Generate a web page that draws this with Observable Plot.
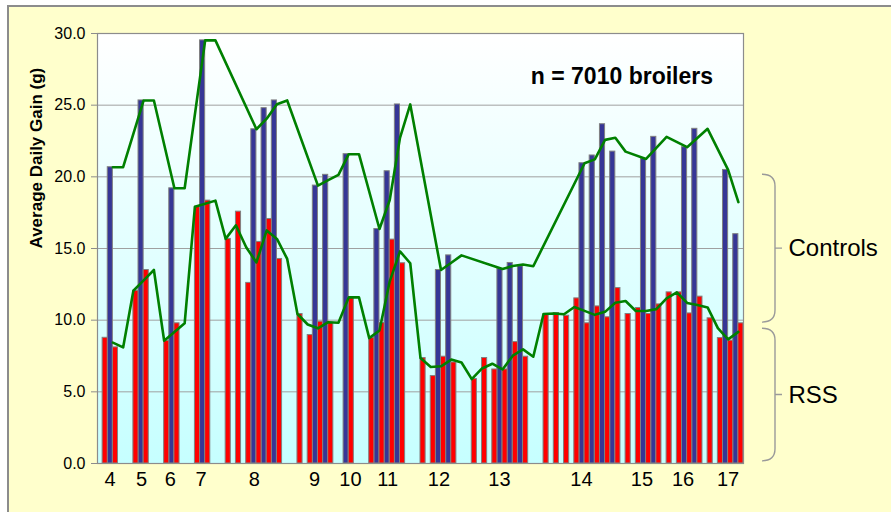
<!DOCTYPE html>
<html>
<head>
<meta charset="utf-8">
<script src="https://cdn.jsdelivr.net/npm/d3@7"></script>
<script src="https://cdn.jsdelivr.net/npm/@observablehq/plot@0.6"></script>
<style>
html, body { margin: 0; padding: 0; background: #ffffff; }
#wrap { position: relative; width: 891px; height: 512px; overflow: hidden; font-family: "Liberation Sans", Arial, sans-serif; }
#panel { position: absolute; left: 7px; top: 5px; width: 900px; height: 520px; background: #FFFFCC; border: 2px solid #8c8c8c; box-sizing: border-box; }
#chart { position: absolute; left: 0; top: 0; }
</style>
</head>
<body>
<div id="wrap"><div id="panel"></div><div id="chart"></div></div>
<script>
// 63 flock slots along the category axis
const slots = Array.from({length: 63}, (_, i) => i);

// Controls (blue bars), Average Daily Gain (g)
const controls = [
  null, 20.67, null, null, 25.33, null, null, 19.2, null, null,
  29.52, null, null, null, null, 23.32, 24.79, 25.33, null, null,
  null, 19.39, 20.14, null, 21.58, null, null, 16.36, 20.39, 25.05,
  null, null, null, 13.5, 14.52, null, null, null, null, 13.57,
  13.99, 13.76, null, null, null, null, null, 20.95, 21.49, 23.67,
  21.76, null, null, 21.25, 22.79, null, null, 22.07, 23.35, null,
  null, 20.48, 16.0
];

// RSS (red bars), Average Daily Gain (g)
const rss = [
  8.77, 8.1, null, 12.05, 13.5, null, 8.56, 9.78, null, 17.92,
  18.34, null, 15.67, 17.57, 12.6, 15.46, 17.06, 14.27, null, 10.43,
  8.96, 9.89, 9.82, null, 11.59, null, 8.75, 9.8, 15.62, 13.97,
  null, 7.36, 6.1, 7.45, 7.05, null, 5.89, 7.36, 6.56, 6.56,
  8.47, 7.45, null, 10.43, 10.5, 10.31, 11.52, 9.78, 10.96, 10.2,
  12.24, 10.43, 10.85, 10.43, 11.1, 11.94, 11.94, 10.47, 11.64, 10.13,
  8.75, 8.57, 9.78
];

// Green trend line through the controls
const controlsTrend = [
  null, 20.67, 20.67, null, 25.33, 25.33, null, 19.2, 19.2, null,
  29.52, 29.52, null, null, null, 23.32, 24.06, 25.06, 25.33, null,
  null, 19.39, 19.77, 20.14, 21.58, 21.58, null, 16.36, 18.38, 22.72,
  25.05, null, null, 13.5, 14.01, 14.52, null, null, null, 13.57,
  13.78, 13.88, 13.76, null, null, null, null, 20.95, 21.22, 22.58,
  22.72, 21.76, null, 21.25, 22.02, 22.79, null, 22.07, 22.71, 23.35,
  null, 20.48, 18.24
];

// Green trend line through the RSS
const rssTrend = [
  null, 8.43, 8.1, 12.05, 12.78, 13.5, 8.56, 9.17, 9.78, 17.92,
  18.13, 18.34, 15.67, 16.62, 15.09, 14.03, 16.26, 15.67, 14.27, 10.43,
  9.7, 9.43, 9.86, 9.82, 11.59, 11.59, 8.75, 9.28, 12.71, 14.8,
  13.97, 7.36, 6.73, 6.78, 7.25, 7.05, 5.89, 6.63, 6.96, 6.56,
  7.52, 7.96, 7.45, 10.43, 10.47, 10.41, 10.92, 10.65, 10.37, 10.58,
  11.22, 11.34, 10.64, 10.64, 10.77, 11.52, 11.94, 11.2, 11.06, 10.89,
  9.44, 8.66, 9.18
];

// Farm labels under the axis and where they sit along the slots
const farmLabels = ["4", "5", "6", "7", "8", "9", "10", "11", "12", "13", "14", "15", "16", "17"];
const farmLabelPos = [1.23, 4.3, 7.1, 10.1, 15.3, 21.18, 24.67, 28.3, 33.3, 39.2, 47.2, 53.1, 57.1, 61.5];

const yTicks = [0, 5, 10, 15, 20, 25, 30];
const gridTicks = [5, 10, 15, 20, 25];

// Braces to the right of the plot
const braceGroups = [
  {label: "Controls", top: 20.15, bottom: 9.83},
  {label: "RSS", top: 9.4, bottom: 0.15}
];

const annotation = "n = 7010 broilers";
const yTitle = "Average Daily Gain (g)";

const rows = slots.map(i => ({
  i,
  controls: controls[i],
  rss: rss[i],
  controlsTrend: controlsTrend[i],
  rssTrend: rssTrend[i]
}));
const labelMap = new Map(farmLabelPos.map((p, k) => [p, farmLabels[k]]));

function plotBackground(index, scales, values, dims) {
  const g = d3.create("svg:g");
  const lg = g.append("defs").append("linearGradient")
    .attr("id", "plotBg").attr("x1", 0).attr("y1", 0).attr("x2", 0).attr("y2", 1);
  lg.append("stop").attr("offset", "0%").attr("stop-color", "#ffffff");
  lg.append("stop").attr("offset", "100%").attr("stop-color", "#c6ffff");
  g.append("rect")
    .attr("x", dims.marginLeft)
    .attr("y", dims.marginTop)
    .attr("width", dims.width - dims.marginLeft - dims.marginRight)
    .attr("height", dims.height - dims.marginTop - dims.marginBottom)
    .attr("fill", "url(#plotBg)");
  return g.node();
}

function braces(index, scales, values, dims) {
  const g = d3.create("svg:g")
    .attr("fill", "none").attr("stroke", "#9a9a9a").attr("stroke-width", 1.4);
  const xr = dims.width - dims.marginRight;
  for (const b of braceGroups) {
    const yt = scales.y(b.top), yb = scales.y(b.bottom), ym = (yt + yb) / 2;
    const x0 = xr + 19, x1 = xr + 32, x2 = xr + 39, r = 12;
    g.append("path").attr("d",
      `M${x0},${yt}Q${x1},${yt} ${x1},${yt + r}V${yb - r}Q${x1},${yb} ${x0},${yb}M${x1},${ym}H${x2}`);
  }
  return g.node();
}

const font = "Liberation Sans, Arial, sans-serif";

const chart = Plot.plot({
  width: 891,
  height: 512,
  marginLeft: 97,
  marginRight: 148,
  marginTop: 33,
  marginBottom: 49,
  style: {background: "transparent", overflow: "visible", fontFamily: font},
  x: {type: "linear", domain: [0, 63]},
  y: {domain: [0, 30]},
  marks: [
    plotBackground,
    Plot.gridY(gridTicks, {stroke: "#a0a0a0", strokeOpacity: 1, strokeWidth: 1}),
    Plot.rect(rows.filter(d => d.controls != null), {
      x1: d => d.i, x2: d => d.i + 0.5, y1: 0, y2: "controls",
      fill: "#363696", stroke: "#808080", strokeWidth: 1
    }),
    Plot.rect(rows.filter(d => d.rss != null), {
      x1: d => d.i + 0.5, x2: d => d.i + 1, y1: 0, y2: "rss",
      fill: "#ff0000", stroke: "#808080", strokeWidth: 1
    }),
    Plot.line(rows.filter(d => d.controlsTrend != null), {
      x: d => d.i + 0.5, y: "controlsTrend", stroke: "#008000", strokeWidth: 2.6, curve: "linear"
    }),
    Plot.line(rows.filter(d => d.rssTrend != null), {
      x: d => d.i + 0.5, y: "rssTrend", stroke: "#008000", strokeWidth: 2.6, curve: "linear"
    }),
    Plot.frame({stroke: "#8c8c8c", strokeWidth: 1.2}),
    Plot.axisY(yTicks, {
      tickFormat: d3.format(".1f"), tickSize: 6, tickPadding: 6,
      fontSize: 16, stroke: "#8c8c8c", fill: "black", label: null
    }),
    Plot.axisX(farmLabelPos, {
      tickFormat: d => labelMap.get(d), tickSize: 0, tickPadding: 8,
      fontSize: 20, fill: "black", label: null
    }),
    Plot.text([yTitle], {
      text: d => d, frameAnchor: "left", dx: -61, rotate: -90,
      fontSize: 17, fontWeight: "bold", fill: "black"
    }),
    Plot.text([annotation], {
      text: d => d, frameAnchor: "top-right", textAnchor: "end",
      dx: -30.5, dy: 34, fontSize: 23, fontWeight: "bold", fill: "black"
    }),
    braces,
    Plot.text(braceGroups, {
      text: "label", y: d => (d.top + d.bottom) / 2, frameAnchor: "right",
      textAnchor: "start", dx: 45, fontSize: 24, fill: "black"
    })
  ]
});

document.getElementById("chart").appendChild(chart);
</script>
</body>
</html>
